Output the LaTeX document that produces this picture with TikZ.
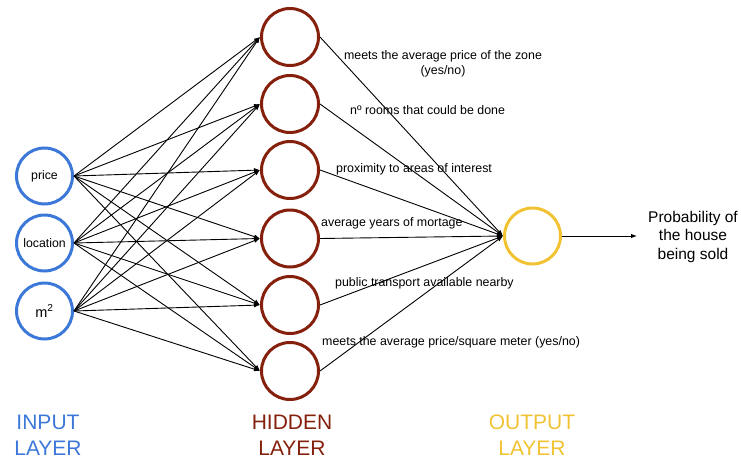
\documentclass[tikz,border=0pt]{standalone}
\usepackage{fontspec}
\setmainfont{Liberation Sans}
\usetikzlibrary{arrows.meta}
\definecolor{inblue}{HTML}{3C78D8}
\definecolor{hidred}{HTML}{85200C}
\definecolor{outyel}{HTML}{F1C232}
\begin{document}
\begin{tikzpicture}[x=1pt,y=-1pt,
  neuron/.style={circle, line width=3pt, minimum size=56pt, inner sep=0pt, font=\fontsize{12.3}{14}\selectfont},
  inneuron/.style={neuron, draw=inblue},
  hidneuron/.style={neuron, draw=hidred, minimum size=57pt},
  outneuron/.style={neuron, draw=outyel},
  conn/.style={line width=0.9pt, -{Latex[length=6pt,width=4.5pt]}},
  lbl/.style={font=\fontsize{12.4}{15}\selectfont, inner sep=0pt},
  layer/.style={font=\fontsize{21}{26}\selectfont, align=center, inner sep=0pt}]
\path[use as bounding box] (0,0) rectangle (741,460);

\node[inneuron] (i1) at (44.5,176) {price};
\node[inneuron] (i2) at (44.5,243) {location};
\node[inneuron] (i3) at (44.5,311) {\fontsize{14.5}{16}\selectfont m\textsuperscript{2}};

\node[hidneuron] (h1) at (290,37) {};
\node[hidneuron] (h2) at (290,104) {};
\node[hidneuron] (h3) at (290,170) {};
\node[hidneuron] (h4) at (290,238.5) {};
\node[hidneuron] (h5) at (290,305) {};
\node[hidneuron] (h6) at (290,371) {};

\node[outneuron] (o) at (532.5,236) {};

\foreach \i in {1,2,3}
  \foreach \h in {1,...,6}
    \draw[conn] (i\i.east) -- (h\h.west);
\foreach \h in {1,...,6}
  \draw[conn] (h\h.east) -- (o.west);

\node[lbl, align=center] (t1) at (443,63.8) {meets the average price of the zone\\(yes/no)};
\node[lbl, anchor=base west] (t2) at (350,114) {nº rooms that could be done};
\node[lbl, anchor=base west] (t3) at (336,172) {proximity to areas of interest};
\node[lbl, anchor=base west] (t4) at (321,226) {average years of mortage};
\node[lbl, anchor=base west] (t5) at (335,286) {public transport available nearby};
\node[lbl, anchor=base west] (t6) at (322,345) {meets the average price/square meter (yes/no)};

\node[font=\fontsize{15.5}{18.5}\selectfont, align=center, inner sep=0pt] (prob) at (693,236.5) {Probability of\\the house\\being sold};
\draw[conn, shorten >=11pt] (o.east) -- (o.east -| prob.west);

\node[layer, text=inblue] (li) at (48,435.5) {INPUT\\LAYER};
\node[layer, text=hidred] (lh) at (292,435.5) {HIDDEN\\LAYER};
\node[layer, text=outyel] (lo) at (532,435.5) {OUTPUT\\LAYER};
\end{tikzpicture}
\end{document}
